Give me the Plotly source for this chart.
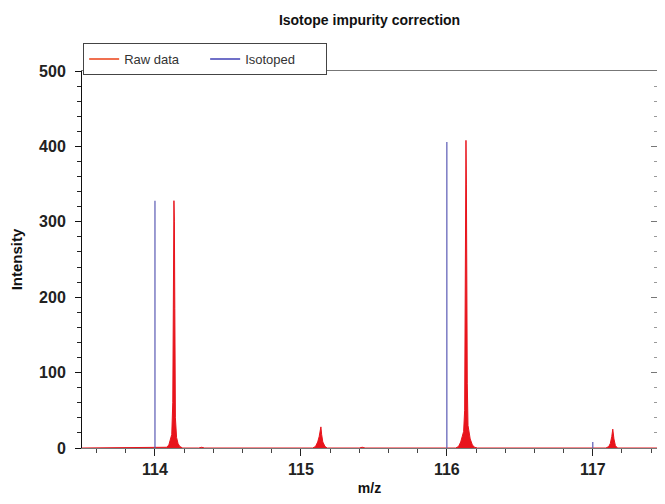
import plotly.graph_objects as go

# ---- data ----
# Raw spectrum profile (m/z, intensity) around each reporter ion cluster
raw_mz = [113.50, 113.80, 113.90, 113.92, 113.95, 114.00,
          114.06, 114.08, 114.095, 114.105, 114.115, 114.122, 114.127, 114.130,
          114.133, 114.136, 114.140, 114.148, 114.158, 114.17, 114.19,
          114.30, 114.32, 114.34, 114.60, 114.62, 114.64, 114.90, 114.92, 114.94,
          115.08, 115.10, 115.115, 115.125, 115.132, 115.137, 115.142, 115.15, 115.165, 115.18,
          115.40, 115.42, 115.44, 115.70, 115.72, 115.74, 115.90, 115.92, 115.94,
          116.06, 116.08, 116.095, 116.105, 116.115, 116.122, 116.127, 116.131, 116.134,
          116.137, 116.14, 116.145, 116.152, 116.16, 116.175, 116.19, 116.21,
          116.35, 116.37, 116.39, 116.70, 116.72, 116.74, 116.95, 116.97, 116.99,
          117.09, 117.11, 117.12, 117.13, 117.137, 117.145, 117.155, 117.17,
          117.30, 117.32, 117.34, 117.44]
raw_int = [0, 0, 0, 1, 0, 0,
           0, 1, 4, 10, 18, 60, 190, 328,
           300, 185, 40, 14, 6, 2, 0,
           0, 1, 0, 0, 1, 0, 0, 1, 0,
           0, 2, 8, 15, 22, 28, 18, 8, 2, 0,
           0, 1, 0, 0, 1, 0, 0, 1, 0,
           0, 2, 8, 15, 22, 50, 180, 408, 350,
           183, 86, 30, 18, 12, 4, 1, 0,
           0, 1, 0, 0, 1, 0, 0, 1, 0,
           0, 2, 6, 15, 25, 12, 3, 0,
           0, 1, 0, 0]

# Isotope-corrected (centroid) values
iso_mz = [114.0, 116.0, 117.0]
iso_int = [328, 406, 8]

x_ticks = [114, 115, 116, 117]
y_ticks = [0, 100, 200, 300, 400, 500]

# ---- build stick coordinates for the isotoped series ----
stick_x, stick_y = [], []
for m, v in zip(iso_mz, iso_int):
    stick_x += [m, m, None]
    stick_y += [0, v, None]

FONT = "Liberation Sans, Arial, sans-serif"
RED = "#e8141c"
BLUE = "#5a5ab4"

fig = go.Figure()
fig.add_trace(go.Scatter(x=raw_mz, y=raw_int, mode="lines", fill="tozeroy",
                         line=dict(color=RED, width=1), fillcolor=RED,
                         showlegend=False, hoverinfo="skip"))
fig.add_trace(go.Scatter(x=stick_x, y=stick_y, mode="lines",
                         line=dict(color=BLUE, width=1.2), showlegend=False))
# legend entries
fig.add_trace(go.Scatter(x=[None], y=[None], mode="lines", name="Raw data",
                         line=dict(color="#f07050", width=2)))
fig.add_trace(go.Scatter(x=[None], y=[None], mode="lines", name="Isotoped",
                         line=dict(color="#7070c8", width=2)))
# trace carrying the right-hand mirrored tick axis (drawn transparent)
fig.add_trace(go.Scatter(x=iso_mz, y=iso_int, xaxis="x", yaxis="y2", mode="lines",
                         line=dict(color="rgba(0,0,0,0)", width=0),
                         showlegend=False, hoverinfo="skip"))

fig.update_layout(
    width=657, height=488,
    margin=dict(l=74, r=8, t=63, b=48),
    paper_bgcolor="white", plot_bgcolor="white",
    font=dict(family=FONT, color="#222", size=13),
    title=dict(text="<b>Isotope impurity correction</b>", x=0.5, xref="paper",
               xanchor="center", y=0.9754, yref="container", yanchor="middle",
               automargin=False, font=dict(size=14, color="#111")),
    showlegend=True,
    legend=dict(orientation="h", x=0.002, xanchor="left", y=1.074, yanchor="top",
                bordercolor="#444", borderwidth=1, bgcolor="white",
                font=dict(size=13, color="#333"), entrywidth=76,
                tracegroupgap=0),
    xaxis=dict(range=[113.5, 117.44], tickvals=x_ticks, automargin=False,
               ticktext=[str(t) for t in x_ticks],
               showgrid=False, zeroline=False, showline=True,
               linecolor="#777", linewidth=1, mirror=True,
               ticks="outside", ticklen=7, tickcolor="#222", tickwidth=1,
               tickfont=dict(size=16, color="#222", weight="bold"),
               minor=dict(dtick=0.2, ticks="outside", ticklen=4, tickcolor="#444",
                          showgrid=False),
               title=dict(text="<b>m/z</b>", font=dict(size=14, color="#111"),
                          standoff=12)),
    yaxis=dict(range=[0, 500], tickvals=y_ticks, automargin=False,
               showgrid=False, zeroline=False, showline=True,
               linecolor="#111", linewidth=1,
               ticks="outside", ticklen=6, tickcolor="#111",
               tickfont=dict(size=16, color="#222", weight="bold"),
               ticklabelstandoff=6,
               minor=dict(dtick=20, ticks="outside", ticklen=4, tickcolor="#222",
                          showgrid=False),
               title=dict(text="<b>Intensity</b>", font=dict(size=15, color="#111"),
                          standoff=14)),
    yaxis2=dict(overlaying="y", side="right", anchor="x", range=[0, 500],
                tickmode="linear", tick0=0, dtick=100,
                automargin=False, showticklabels=False, showgrid=False,
                zeroline=False, showline=False, ticks="inside", ticklen=6,
                tickwidth=1, tickcolor="#777",
                minor=dict(dtick=20, ticks="inside", ticklen=3, tickcolor="#999",
                           showgrid=False)),
)

fig.write_html("out.html")
